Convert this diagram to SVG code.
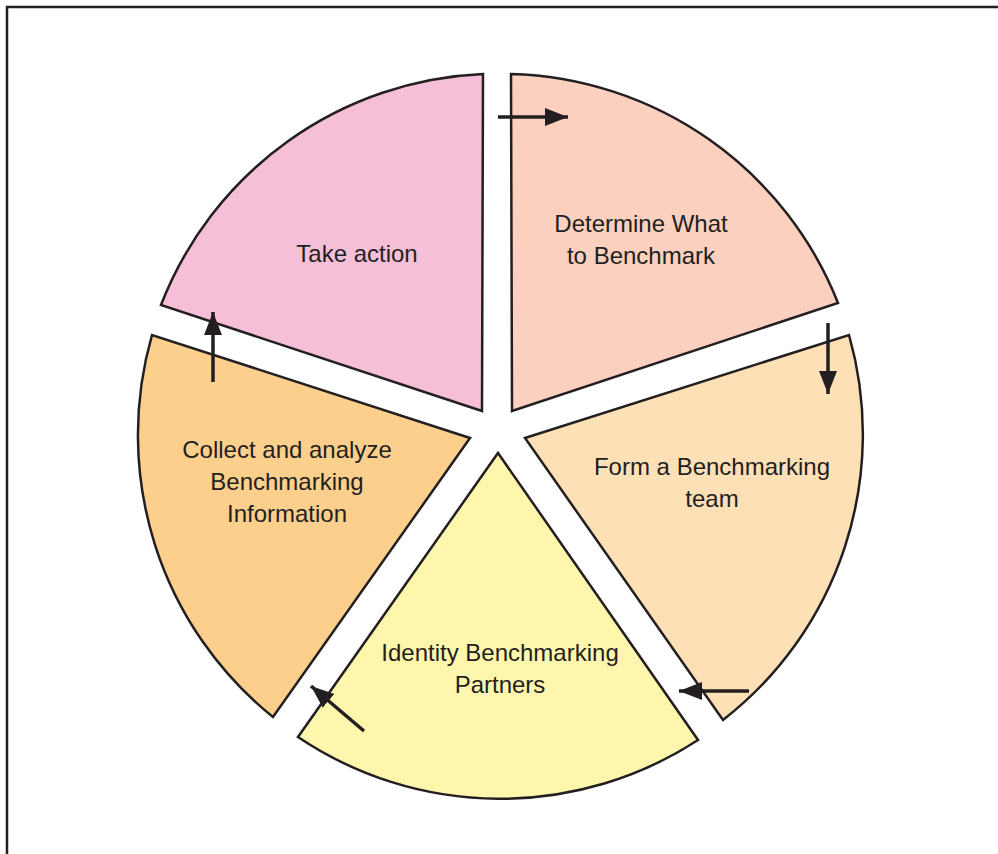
<svg xmlns="http://www.w3.org/2000/svg" width="998" height="854" viewBox="0 0 998 854">
<style>
.seg{stroke:#231f20;stroke-width:2.5;stroke-linejoin:miter}
.lbl{font-family:"Liberation Sans",Arial,sans-serif;font-size:24px;fill:#231f20;text-anchor:middle}
.arr{stroke:#231f20;stroke-width:3.5;fill:none;marker-end:url(#ah)}
</style>
<defs>
<marker id="ah" markerUnits="userSpaceOnUse" markerWidth="24" markerHeight="20" refX="23" refY="9" orient="auto">
<path d="M0,0 L23,9 L0,18 Z" fill="#231f20"/>
</marker>
</defs>
<rect width="998" height="854" fill="#ffffff"/>
<g id="frame" stroke="#231f20" stroke-width="2.5" fill="none">
<line x1="6" y1="7" x2="998" y2="7"/>
<line x1="7" y1="6" x2="7" y2="854"/>
</g>
<g id="take-action">
<path class="seg" fill="#f5bfd8" d="M482,411 L161,305 A362,362 0 0 1 483,74 Z"/>
<text class="lbl" x="357" y="262">Take action</text>
</g>
<g id="determine">
<path class="seg" fill="#fbd0bf" d="M512,411 L511,74 A362,362 0 0 1 838,303 Z"/>
<text class="lbl" x="641" y="232">Determine What</text>
<text class="lbl" x="641" y="264">to Benchmark</text>
</g>
<g id="form-team">
<path class="seg" fill="#fde0b6" d="M525,438 L849,335 A362,362 0 0 1 723,720 Z"/>
<text class="lbl" x="712" y="475">Form a Benchmarking</text>
<text class="lbl" x="712" y="507">team</text>
</g>
<g id="identity-partners">
<path class="seg" fill="#fff6ad" d="M498,453 L698,740 A362,362 0 0 1 298,737 Z"/>
<text class="lbl" x="500" y="661">Identity Benchmarking</text>
<text class="lbl" x="500" y="693">Partners</text>
</g>
<g id="collect-analyze">
<path class="seg" fill="#fccf8d" d="M470,438 L273,717 A362,362 0 0 1 152,335 Z"/>
<text class="lbl" x="287" y="458">Collect and analyze</text>
<text class="lbl" x="287" y="490">Benchmarking</text>
<text class="lbl" x="287" y="522">Information</text>
</g>
<g id="connectors">
<line class="arr" x1="498" y1="117" x2="568" y2="117"/>
<line class="arr" x1="828" y1="323" x2="828" y2="394"/>
<line class="arr" x1="749" y1="691" x2="679" y2="691"/>
<line class="arr" x1="364" y1="731" x2="311" y2="686"/>
<line class="arr" x1="213" y1="382" x2="213" y2="312"/>
</g>
</svg>
